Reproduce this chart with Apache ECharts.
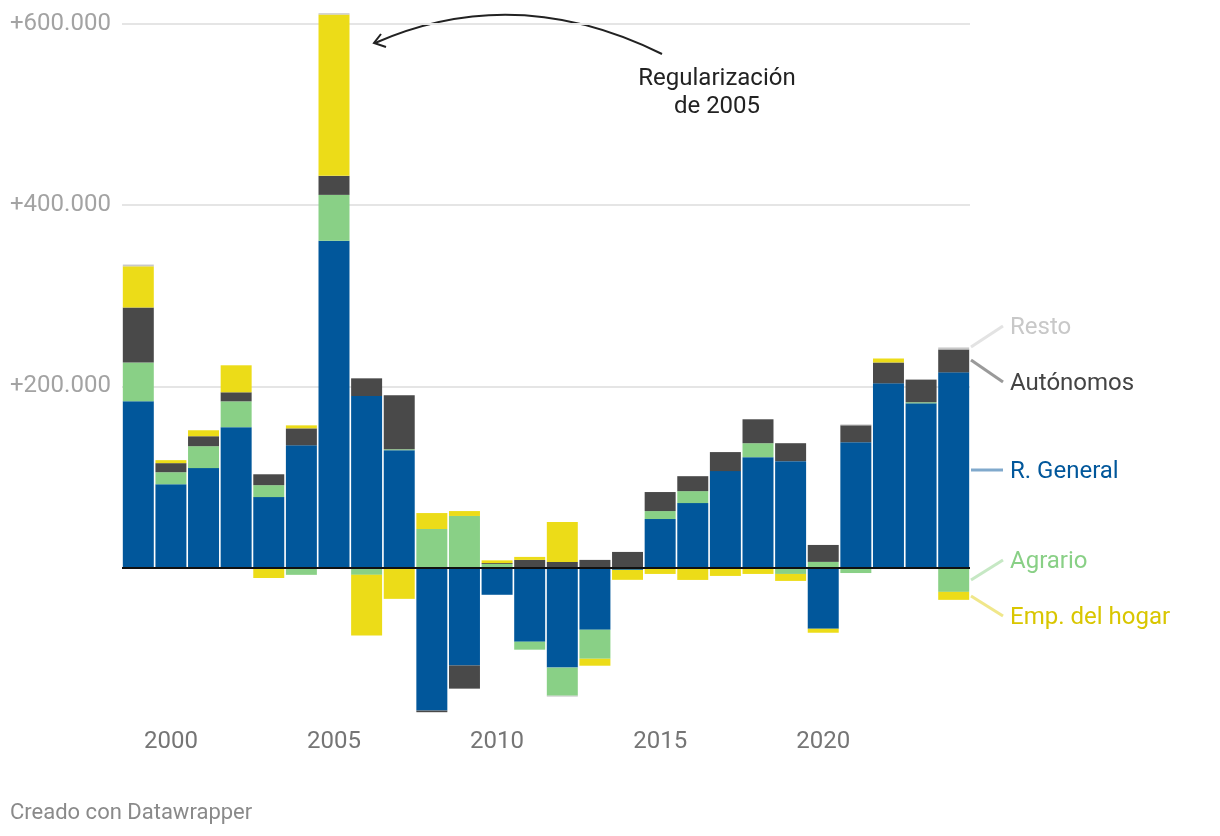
<!DOCTYPE html>
<html>
<head>
<meta charset="utf-8">
<script src="https://cdn.jsdelivr.net/npm/echarts@6/dist/echarts.min.js"></script>
<style>
html,body{margin:0;padding:0;background:#fff;}
#chart{width:1220px;height:836px;}
</style>
</head>
<body>
<div id="chart"></div>
<script>
const years = ['1999','2000','2001','2002','2003','2004','2005','2006','2007','2008','2009','2010','2011','2012','2013','2014','2015','2016','2017','2018','2019','2020','2021','2022','2023','2024'];
const general = [183500,92000,109800,155000,77800,135000,360800,189400,129600,-157800,-108000,-30000,-81800,-110400,-68600,-2500,53600,71200,106500,121900,117500,-67500,138400,203400,181300,215500];
const agrario = [43000,13300,24200,28500,13200,-8000,50600,-8000,1000,42600,57000,4000,-8800,-31000,-32000,0,8800,13200,0,15400,-7000,6300,-6000,0,1200,-26800];
const autonomos = [60500,10000,11000,10000,12000,18700,21000,19500,59500,-1800,-25600,1000,8500,6300,8500,17300,21000,16500,21000,26400,19800,18700,18700,23000,25000,25300];
const hogar = [45500,3300,6600,29800,-11500,3300,178000,-67000,-34500,17600,5400,3000,3300,44000,-7700,-11000,-7000,-13600,-9200,-7000,-7700,-4400,0,4400,0,-8800];
const resto = [2000,0,0,0,0,0,1500,0,0,0,0,0,0,-1000,0,0,0,0,0,0,0,0,1000,0,0,2200];
const yTicks = [-200000, 0, 200000, 400000, 600000];

const FONT = 'Roboto';
const chart = echarts.init(document.getElementById('chart'), null, {renderer: 'canvas'});

function fmt(v) {
  return '+' + String(v).replace(/\B(?=(\d{3})+(?!\d))/g, '.');
}

function bar(name, data, color) {
  return {
    name: name, type: 'bar', stack: 'total', data: data,
    barCategoryGap: '5%',
    clip: false,
    itemStyle: {color: color},
    emphasis: {disabled: true},
    silent: true
  };
}

const series = [
  bar('R. General', general, '#01579b'),
  bar('Agrario', agrario, '#89d086'),
  bar('Autónomos', autonomos, '#494949'),
  bar('Emp. del hogar', hogar, '#ecdc18'),
  bar('Resto', resto, '#c8c8c8')
];
series[4].markLine = {
  silent: true, symbol: ['none','none'], z: 10,
  label: {show: false},
  lineStyle: {color: '#111', width: 2, type: 'solid'},
  data: [{yAxis: 0}]
};

const legendLabels = [
  {text: 'Resto', color: '#c8c8c8', line: '#e3e3e3', y0: 347, y1: 326},
  {text: 'Autónomos', color: '#444444', line: '#9a9a9a', y0: 360, y1: 382},
  {text: 'R. General', color: '#01579b', line: '#80a9cc', y0: 470, y1: 470},
  {text: 'Agrario', color: '#89d086', line: '#c6e8c4', y0: 580, y1: 560},
  {text: 'Emp. del hogar', color: '#d9c600', line: '#f0e78a', y0: 596, y1: 616}
];

const graphics = [];
legendLabels.forEach(function (l) {
  graphics.push({type: 'line', silent: true, shape: {x1: 971, y1: l.y0, x2: 1003, y2: l.y1}, style: {stroke: l.line, lineWidth: 3}});
  graphics.push({type: 'text', silent: true, x: 1010, y: l.y1 + 1.5, style: {text: l.text, fill: l.color, font: '24px ' + FONT, textVerticalAlign: 'middle', textAlign: 'left'}});
});
// annotation
graphics.push({type: 'bezierCurve', silent: true, shape: {x1: 662, y1: 54, x2: 375, y2: 43, cpx1: 515.5, cpy1: -18.5}, style: {stroke: '#222', lineWidth: 2, fill: null}});
graphics.push({type: 'polyline', silent: true, shape: {points: [[381, 34], [374, 43], [386, 47]]}, style: {stroke: '#222', lineWidth: 2, fill: null}});
graphics.push({type: 'text', silent: true, x: 717, y: 79, style: {text: 'Regularización', fill: '#222', font: '24px ' + FONT, textAlign: 'center', textVerticalAlign: 'middle'}});
graphics.push({type: 'text', silent: true, x: 717, y: 107, style: {text: 'de 2005', fill: '#222', font: '24px ' + FONT, textAlign: 'center', textVerticalAlign: 'middle'}});
graphics.push({type: 'text', silent: true, x: 10, y: 813, style: {text: 'Creado con Datawrapper', fill: '#8a8a8a', font: '22px ' + FONT, textAlign: 'left', textVerticalAlign: 'middle'}});

chart.setOption({
  animation: false,
  backgroundColor: '#ffffff',
  textStyle: {fontFamily: FONT},
  grid: {left: 122, right: 250, top: 24, bottom: 87.2, containLabel: false},
  xAxis: {
    type: 'category', data: years, offset: -27,
    axisLine: {show: false}, axisTick: {show: false},
    axisLabel: {
      color: '#757575', fontSize: 24, fontFamily: FONT, margin: 8,
      interval: function (i, v) { return Number(v) % 5 === 0; }
    }
  },
  yAxis: {
    type: 'value', min: yTicks[0], max: yTicks[yTicks.length - 1], interval: 200000,
    axisLine: {show: false}, axisTick: {show: false},
    axisLabel: {
      color: '#a3a3a3', fontSize: 24, fontFamily: FONT, align: 'left', margin: 112,
      formatter: function (v) { return v > 0 ? fmt(v) : ''; }
    },
    splitLine: {show: true, lineStyle: {color: yTicks.map(function (t) { return t > 0 ? '#e5e5e5' : 'rgba(0,0,0,0)'; }), width: 2}}
  },
  series: series,
  graphic: graphics
});
</script>
</body>
</html>
